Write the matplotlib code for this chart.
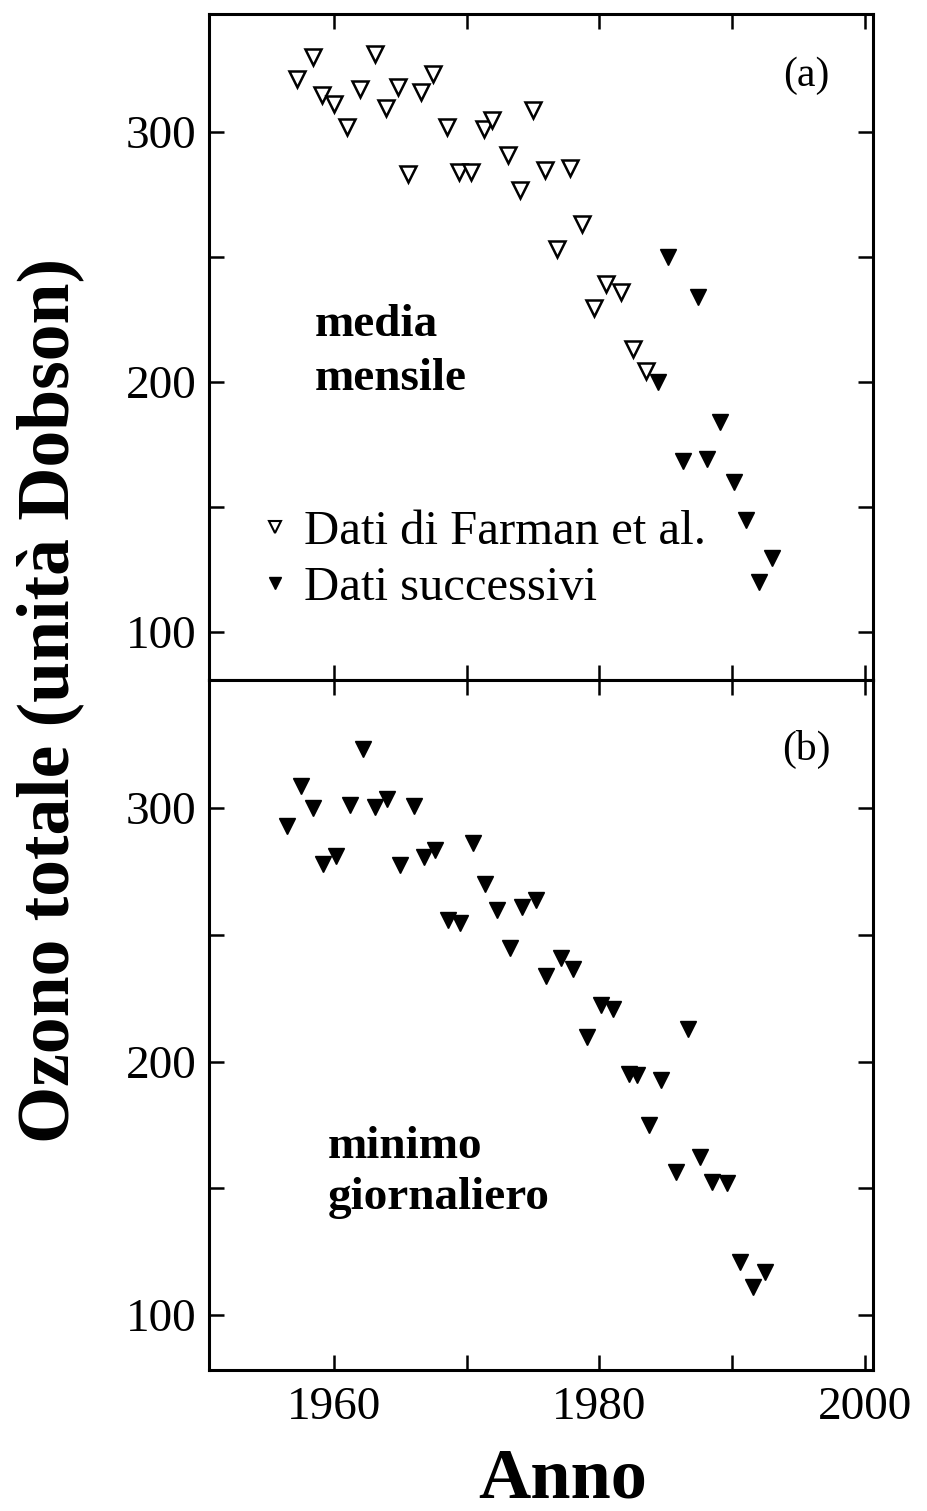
import matplotlib
matplotlib.use("Agg")
import matplotlib.pyplot as plt
from matplotlib.lines import Line2D
from matplotlib.ticker import FixedLocator

# Dati (a): media mensile
farman_anni = [1957.2, 1958.4, 1959.1, 1960.0, 1961.0, 1962.0, 1963.1, 1963.9, 1964.8, 1965.6,
               1966.6, 1967.5, 1968.5, 1969.4, 1970.3, 1971.3, 1971.9, 1973.1, 1974.0, 1975.0,
               1975.9, 1976.8, 1977.8, 1978.7, 1979.6, 1980.5, 1981.6, 1982.5, 1983.5]
farman_ozono = [321, 330, 314.5, 311, 302, 317, 331, 309.6, 318, 283,
                316, 323, 302, 284, 284, 301, 304.5, 290.5, 276.5, 308.6,
                284.7, 253, 285.3, 263, 229.6, 239, 236, 212.9, 204.3]

succ_anni = [1984.4, 1985.2, 1986.3, 1987.4, 1988.1, 1989.1, 1990.1, 1991.0, 1992.0, 1993.0]
succ_ozono = [199.7, 249.7, 168.2, 234, 168.9, 184, 159.7, 144.6, 119.7, 129.5]

# Dati (b): minimo giornaliero
min_anni = [1956.5, 1957.5, 1958.4, 1959.2, 1960.2, 1961.2, 1962.2, 1963.1, 1964.0, 1965.0,
            1966.0, 1966.8, 1967.6, 1968.6, 1969.5, 1970.5, 1971.4, 1972.3, 1973.3, 1974.2,
            1975.2, 1976.0, 1977.1, 1978.0, 1979.1, 1980.1, 1981.0, 1982.2, 1982.8, 1983.7,
            1984.6, 1985.8, 1986.7, 1987.6, 1988.5, 1989.6, 1990.6, 1991.6, 1992.5]
min_ozono = [292.9, 308.8, 300, 277.9, 281.2, 301.3, 323.4, 300.3, 303.6, 277.5,
             300.6, 280.5, 283.5, 255.8, 254.5, 286.1, 270.1, 259.7, 244.8, 261,
             263.6, 233.8, 240.9, 236.6, 209.6, 222.3, 220.8, 195.1, 194.5, 174.8,
             192.9, 156.4, 212.9, 162.3, 152.5, 152.1, 121, 111.2, 117.1]

anni_etichette = [1960, 1980, 2000]
ozono_etichette = [100, 200, 300]

plt.rcParams['font.family'] = ['Liberation Serif', 'DejaVu Serif']

fig = plt.figure(figsize=(9.27, 15.11), dpi=100)
ax_a = fig.add_axes([209 / 927, 1 - 680 / 1511, 664 / 927, 666 / 1511])
ax_b = fig.add_axes([209 / 927, 1 - 1370 / 1511, 664 / 927, 690 / 1511])


def stile_assi(ax, ylim):
    ax.set_xlim(1950.6, 2000.6)
    ax.set_ylim(*ylim)
    ax.xaxis.set_major_locator(FixedLocator(anni_etichette))
    ax.xaxis.set_minor_locator(FixedLocator([1970, 1990]))
    ax.yaxis.set_major_locator(FixedLocator(ozono_etichette))
    ax.yaxis.set_minor_locator(FixedLocator([150, 250]))
    ax.tick_params(which='both', direction='in', top=True, right=True,
                   length=11, width=1.8, labelsize=34, pad=9)
    for s in ax.spines.values():
        s.set_linewidth(2.2)


stile_assi(ax_a, (80.7, 347))
stile_assi(ax_b, (78.3, 350.5))
ax_a.tick_params(labelbottom=False)
ax_b.tick_params(axis='x', pad=12)

ax_a.plot(farman_anni, farman_ozono, 'v', ms=11, mfc='white', mec='black', mew=1.8)
ax_a.plot(succ_anni, succ_ozono, 'v', ms=11.5, mfc='black', mec='black', mew=1)
ax_b.plot(min_anni, min_ozono, 'v', ms=11.5, mfc='black', mec='black', mew=1)

ax_a.text(0.9, 0.908, '(a)', transform=ax_a.transAxes, fontsize=30, ha='center', va='center')
ax_b.text(0.9, 0.9, '(b)', transform=ax_b.transAxes, fontsize=30, ha='center', va='center')

ax_a.text(0.159, 0.4925, 'media\nmensile', transform=ax_a.transAxes, fontsize=34,
          fontweight='bold', ha='left', va='center', linespacing=1.35)
ax_b.text(0.179, 0.286, 'minimo\ngiornaliero', transform=ax_b.transAxes, fontsize=34,
          fontweight='bold', ha='left', va='center', linespacing=1.3)

maniglie = [Line2D([], [], ls='none', marker='v', ms=8, mfc='white', mec='black', mew=1.5),
            Line2D([], [], ls='none', marker='v', ms=8, mfc='black', mec='black')]
ax_a.legend(maniglie, ['Dati di Farman et al.', 'Dati successivi'], loc='lower left',
            bbox_to_anchor=(0.081, 0.105), frameon=False, fontsize=35, handlelength=0.5,
            handletextpad=0.35, labelspacing=0.25, borderaxespad=0, borderpad=0)

fig.text(50 / 927, 1 - 700 / 1511, 'Ozono totale (unità Dobson)', rotation=90,
         fontsize=53, fontweight='bold', ha='center', va='center')
fig.text(563 / 927, 1 - 1480 / 1511, 'Anno', fontsize=52, fontweight='bold',
         ha='center', va='center')

fig.savefig('out.png', dpi=100)
